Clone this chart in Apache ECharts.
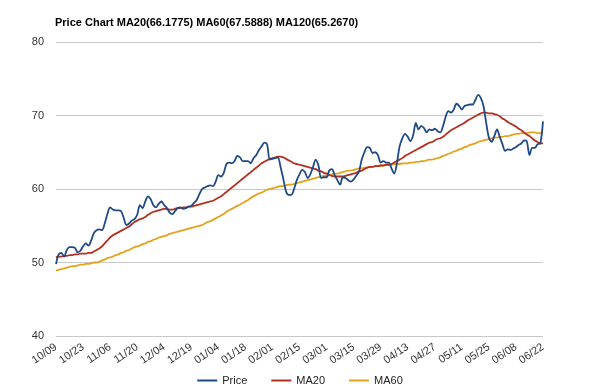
<!DOCTYPE html>
<html>
<head>
<meta charset="utf-8">
<script src="https://cdn.jsdelivr.net/npm/echarts@6/dist/echarts.min.js"></script>
<style>
html,body{margin:0;padding:0;background:#fff;}
#chart{width:600px;height:392px;}
</style>
</head>
<body>
<div id="chart"></div>
<script>
const titleText = "Price Chart MA20(66.1775) MA60(67.5888) MA120(65.2670)";

const dates = [
"10/09","10/10","10/11","10/12","10/13","10/16","10/17","10/18","10/19","10/20",
"10/23","10/24","10/25","10/26","10/27","10/30","10/31","11/01","11/02","11/03",
"11/06","11/07","11/08","11/09","11/10","11/13","11/14","11/15","11/16","11/17",
"11/20","11/21","11/22","11/23","11/24","11/27","11/28","11/29","11/30","12/01",
"12/04","12/05","12/06","12/07","12/11","12/12","12/13","12/14","12/15","12/18",
"12/19","12/20","12/21","12/22","12/26","12/27","12/28","12/29","01/02","01/03",
"01/04","01/05","01/08","01/09","01/10","01/11","01/12","01/15","01/16","01/17",
"01/18","01/19","01/22","01/23","01/24","01/25","01/26","01/29","01/30","01/31",
"02/01","02/02","02/05","02/06","02/07","02/08","02/09","02/12","02/13","02/14",
"02/15","02/16","02/19","02/20","02/21","02/22","02/23","02/26","02/27","02/28",
"03/01","03/02","03/05","03/06","03/07","03/08","03/09","03/12","03/13","03/14",
"03/15","03/16","03/19","03/20","03/21","03/22","03/23","03/26","03/27","03/28",
"03/29","04/02","04/03","04/04","04/05","04/06","04/09","04/10","04/11","04/12",
"04/13","04/16","04/17","04/18","04/19","04/20","04/23","04/24","04/25","04/26",
"04/27","04/30","05/01","05/02","05/03","05/04","05/07","05/08","05/09","05/10",
"05/11","05/14","05/15","05/16","05/17","05/18","05/21","05/22","05/23","05/24",
"05/25","05/28","05/29","05/30","05/31","06/01","06/04","06/05","06/06","06/07",
"06/08","06/11","06/12","06/13","06/14","06/15","06/18","06/19","06/20","06/21",
"06/22"
];

const price = [
49.8,51.1,51.3,50.8,51.7,52.1,52.1,52.0,51.4,51.6,
52.2,52.6,52.3,53.0,54.0,54.4,54.5,54.4,55.3,56.6,
57.5,57.2,57.1,57.1,57.0,56.1,55.1,55.3,55.7,55.9,
56.5,57.8,57.4,58.3,59.0,58.6,57.8,57.5,58.0,58.3,
57.8,57.4,56.8,56.6,57.0,57.4,57.5,57.3,57.4,57.6,
57.7,58.1,58.5,59.3,60.0,60.2,60.4,60.5,60.4,61.0,
61.9,61.7,62.2,63.4,63.6,63.5,63.8,64.5,64.3,63.8,
63.8,63.8,63.5,64.2,64.6,65.3,65.8,66.3,66.1,64.0,
64.1,64.2,64.3,63.0,61.4,59.7,59.2,59.2,60.0,61.2,
62.0,62.6,62.3,61.5,62.0,63.0,64.0,63.2,61.5,61.6,
61.6,62.5,62.7,61.9,61.2,60.6,61.6,61.5,61.2,61.0,
61.3,61.8,62.4,64.0,65.0,65.7,65.6,64.9,65.0,64.6,
63.6,63.8,63.6,63.6,62.8,62.1,63.5,65.8,66.9,67.5,
67.1,66.5,67.3,69.0,68.1,68.6,68.3,67.7,68.1,68.0,
68.2,67.9,67.7,68.5,69.8,70.6,70.4,70.8,71.6,71.3,
70.8,71.3,71.4,71.5,71.5,72.1,72.8,72.4,71.3,69.0,
67.0,66.4,67.2,68.1,67.1,66.1,65.2,65.4,65.3,65.5,
65.7,66.0,66.2,66.6,66.5,64.6,65.6,65.6,66.1,66.2,
69.2
];

const ma20 = [
50.7,50.8,50.8,50.9,50.9,51.0,51.0,51.1,51.1,51.2,
51.2,51.2,51.3,51.3,51.5,51.7,51.9,52.2,52.6,53.0,
53.4,53.7,53.9,54.1,54.3,54.5,54.7,54.9,55.2,55.5,
55.7,55.9,56.0,56.2,56.5,56.7,56.9,57.0,57.1,57.2,
57.3,57.3,57.2,57.2,57.3,57.4,57.4,57.5,57.5,57.6,
57.6,57.7,57.8,57.9,58.0,58.1,58.2,58.3,58.4,58.6,
58.8,59.0,59.3,59.6,59.9,60.2,60.5,60.8,61.1,61.4,
61.7,62.0,62.3,62.6,62.9,63.2,63.5,63.7,63.9,64.1,
64.2,64.3,64.4,64.4,64.3,64.1,63.9,63.7,63.5,63.4,
63.3,63.2,63.1,63.0,62.9,62.8,62.7,62.5,62.4,62.2,
62.1,61.9,61.8,61.7,61.7,61.7,61.7,61.8,61.9,62.0,
62.1,62.2,62.4,62.5,62.7,62.9,63.0,63.0,63.1,63.1,
63.2,63.2,63.3,63.3,63.4,63.6,63.8,64.0,64.2,64.5,
64.7,64.9,65.1,65.3,65.5,65.7,65.9,66.1,66.3,66.4,
66.6,66.8,66.9,67.1,67.4,67.7,68.0,68.2,68.4,68.6,
68.8,69.0,69.3,69.5,69.7,69.9,70.1,70.3,70.4,70.4,
70.3,70.3,70.2,70.1,69.9,69.6,69.4,69.1,68.9,68.7,
68.5,68.2,68.0,67.7,67.4,67.2,66.9,66.6,66.4,66.2,
66.2
];

const ma60 = [
48.9,49.0,49.1,49.2,49.3,49.4,49.5,49.5,49.6,49.7,
49.7,49.8,49.8,49.9,50.0,50.0,50.1,50.3,50.4,50.6,
50.7,50.8,51.0,51.1,51.3,51.4,51.6,51.7,51.9,52.1,
52.2,52.3,52.5,52.6,52.8,52.9,53.1,53.2,53.4,53.5,
53.6,53.7,53.9,54.0,54.1,54.2,54.3,54.4,54.5,54.6,
54.7,54.8,54.9,55.0,55.1,55.3,55.5,55.6,55.8,56.0,
56.2,56.4,56.6,56.9,57.1,57.3,57.5,57.7,57.9,58.1,
58.3,58.5,58.8,59.0,59.2,59.4,59.5,59.7,59.9,60.0,
60.1,60.2,60.3,60.4,60.4,60.5,60.6,60.6,60.7,60.8,
60.9,61.0,61.1,61.2,61.3,61.4,61.5,61.6,61.7,61.8,
61.8,61.9,62.0,62.1,62.1,62.2,62.3,62.4,62.5,62.5,
62.6,62.7,62.8,62.8,62.9,62.9,63.0,63.0,63.1,63.1,
63.2,63.2,63.3,63.3,63.3,63.4,63.4,63.4,63.5,63.5,
63.5,63.6,63.6,63.7,63.7,63.8,63.8,63.9,64.0,64.0,
64.1,64.2,64.3,64.5,64.6,64.8,64.9,65.1,65.2,65.4,
65.5,65.7,65.8,66.0,66.1,66.2,66.4,66.5,66.6,66.7,
66.8,66.9,67.0,67.0,67.1,67.1,67.2,67.2,67.3,67.4,
67.5,67.5,67.6,67.6,67.6,67.7,67.7,67.7,67.6,67.6,
67.6
];

const seriesNames = ["Price", "MA20", "MA60"];
const seriesColors = ["#1f4a87", "#b1301f", "#e3a21c"];

const chart = echarts.init(document.getElementById('chart'), null, {renderer: 'canvas'});
const font = "Liberation Sans, Arial, sans-serif";

chart.setOption({
  animation: false,
  backgroundColor: '#ffffff',
  title: {
    text: titleText,
    left: 50,
    top: 12,
    textStyle: {fontSize: 11, fontWeight: 'bold', color: '#000', fontFamily: font}
  },
  legend: {
    bottom: 1,
    left: 'center',
    itemWidth: 20,
    itemHeight: 2,
    itemGap: 24,
    icon: 'rect',
    textStyle: {fontSize: 11, color: '#222', fontFamily: font},
    data: seriesNames
  },
  grid: {left: 56, right: 57, top: 42, bottom: 56},
  xAxis: {
    type: 'category',
    data: dates,
    boundaryGap: false,
    axisLine: {show: false},
    axisTick: {show: false},
    axisLabel: {interval: 9, rotate: 34, fontSize: 11, color: '#333', fontFamily: font, margin: 10},
    splitLine: {show: false}
  },
  yAxis: {
    type: 'value',
    min: 40, max: 80, interval: 10,
    axisLine: {show: false},
    axisTick: {show: false},
    axisLabel: {fontSize: 11, color: '#333', fontFamily: font, margin: 12},
    splitLine: {lineStyle: {color: '#c8c8c8', width: 1}}
  },
  series: [
    {name: seriesNames[0], type: 'line', data: price, showSymbol: false, smooth: 0.3,
     lineStyle: {color: seriesColors[0], width: 1.8}, itemStyle: {color: seriesColors[0]}, z: 3},
    {name: seriesNames[1], type: 'line', data: ma20, showSymbol: false, smooth: true,
     lineStyle: {color: seriesColors[1], width: 1.8}, itemStyle: {color: seriesColors[1]}, z: 2},
    {name: seriesNames[2], type: 'line', data: ma60, showSymbol: false, smooth: true,
     lineStyle: {color: seriesColors[2], width: 1.8}, itemStyle: {color: seriesColors[2]}, z: 1}
  ]
});
</script>
</body>
</html>
